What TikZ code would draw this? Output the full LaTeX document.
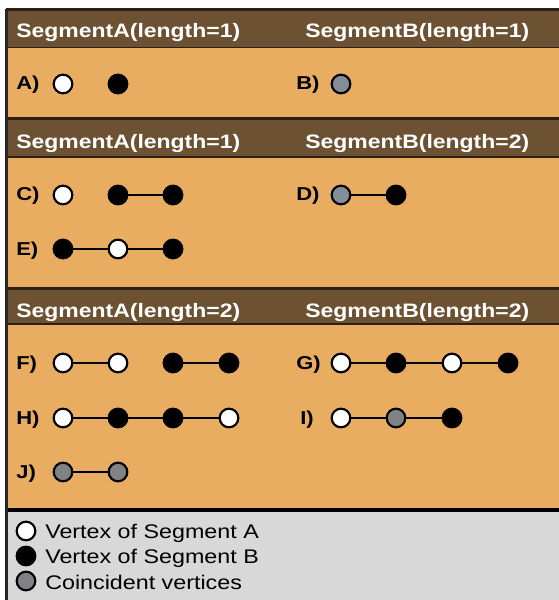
\documentclass[tikz,border=0pt]{standalone}
\usepackage{fontspec}
\setmainfont{Liberation Sans}
\definecolor{hdbrown}{RGB}{108,82,50}
\definecolor{bodyorange}{RGB}{233,173,98}
\definecolor{legendgrey}{RGB}{216,216,216}
\definecolor{sepdark}{RGB}{45,32,18}
\definecolor{coingrey}{RGB}{128,130,132}
\definecolor{coinblue}{RGB}{132,142,152}
\newcommand{\wide}[1]{\scalebox{1.18}[1]{#1}}
\begin{document}
\begin{tikzpicture}[x=0.75pt,y=-0.75pt,
  hdtext/.style={anchor=base west, inner sep=0pt, text=white,
    font=\fontsize{14.6pt}{16pt}\selectfont\bfseries},
  rowlabel/.style={anchor=base west, inner sep=0pt, text=black,
    font=\fontsize{14pt}{16pt}\selectfont\bfseries},
  legtext/.style={anchor=base west, inner sep=0pt, text=black,
    font=\fontsize{14.8pt}{16pt}\selectfont},
  vtx/.style={circle, draw=black, line width=1.6pt, minimum size=14pt, inner sep=0pt},
  va/.style={vtx, fill=white},
  vb/.style={vtx, fill=black},
  vc/.style={vtx, fill=coingrey},
  vcb/.style={vtx, fill=coinblue},
  edge/.style={draw=black, line width=1.1pt},
  sep/.style={draw=sepdark, line width=1.6pt},
]
\useasboundingbox (0,0) rectangle (559,600);
\fill[white] (0,0) rectangle (559,600);

% bands of the table
\fill[hdbrown]    (6,9)   rectangle (559,47);
\fill[bodyorange] (6,47)  rectangle (559,118);
\fill[hdbrown]    (6,118) rectangle (559,157);
\fill[bodyorange] (6,157) rectangle (559,288);
\fill[hdbrown]    (6,288) rectangle (559,324);
\fill[bodyorange] (6,324) rectangle (559,509);
\fill[legendgrey] (6,509) rectangle (559,600);

% rules between bands and the outer frame
\draw[sep] (6,9.5) -- (559,9.5);
\draw[sep, line width=0.9pt] (6,47.5) -- (559,47.5);
\draw[sep] (6,118.5) -- (559,118.5);
\draw[sep, line width=0.9pt] (6,157) -- (559,157);
\draw[sep] (6,288.5) -- (559,288.5);
\draw[sep, line width=0.9pt] (6,324) -- (559,324);
\draw[draw=black, line width=2.6pt] (6,510) -- (559,510);
\draw[draw=black!85, line width=2pt] (6.5,9) -- (6.5,600);

% headers
\node[hdtext] (h1a) at (16,37)  {\wide{SegmentA(length=1)}};
\node[hdtext] (h1b) at (305,37) {\wide{SegmentB(length=1)}};
\node[hdtext] (h2a) at (16,148)  {\wide{SegmentA(length=1)}};
\node[hdtext] (h2b) at (305,148) {\wide{SegmentB(length=2)}};
\node[hdtext] (h3a) at (16,317)  {\wide{SegmentA(length=2)}};
\node[hdtext] (h3b) at (305,317) {\wide{SegmentB(length=2)}};

% row labels
\node[rowlabel] (lA) at (16,89)  {\wide{A)}};
\node[rowlabel] (lB) at (296,89) {\wide{B)}};
\node[rowlabel] (lC) at (16,200)  {\wide{C)}};
\node[rowlabel] (lD) at (296,200) {\wide{D)}};
\node[rowlabel] (lE) at (16,255)  {\wide{E)}};
\node[rowlabel] (lF) at (16,369)  {\wide{F)}};
\node[rowlabel] (lG) at (296,369) {\wide{G)}};
\node[rowlabel] (lH) at (16,424)  {\wide{H)}};
\node[rowlabel] (lI) at (300,424) {\wide{I)}};
\node[rowlabel] (lJ) at (16,478)  {\wide{J)}};

% A)
\node[va] (a1) at (63,84) {};
\node[vb] (a2) at (118,84) {};
% B)
\node[vcb] (b1) at (341,84) {};
% C)
\node[va] (c1) at (63,195) {};
\node[vb] (c2) at (118,195) {};
\node[vb] (c3) at (173,195) {};
\draw[edge] (c2) -- (c3);
% D)
\node[vcb] (d1) at (341,195) {};
\node[vb] (d2) at (396,195) {};
\draw[edge] (d1) -- (d2);
% E)
\node[vb] (e1) at (63,249) {};
\node[va] (e2) at (118,249) {};
\node[vb] (e3) at (173,249) {};
\draw[edge] (e1) -- (e2) -- (e3);
% F)
\node[va] (f1) at (63,363) {};
\node[va] (f2) at (118,363) {};
\node[vb] (f3) at (173,363) {};
\node[vb] (f4) at (229,363) {};
\draw[edge] (f1) -- (f2);
\draw[edge] (f3) -- (f4);
% G)
\node[va] (g1) at (341,363) {};
\node[vb] (g2) at (396,363) {};
\node[va] (g3) at (452,363) {};
\node[vb] (g4) at (508,363) {};
\draw[edge] (g1) -- (g2) -- (g3) -- (g4);
% H)
\node[va] (hh1) at (63,418) {};
\node[vb] (hh2) at (118,418) {};
\node[vb] (hh3) at (173,418) {};
\node[va] (hh4) at (229,418) {};
\draw[edge] (hh1) -- (hh2) -- (hh3) -- (hh4);
% I)
\node[va] (i1) at (341,418) {};
\node[vc] (i2) at (396,418) {};
\node[vb] (i3) at (452,418) {};
\draw[edge] (i1) -- (i2) -- (i3);
% J)
\node[vc] (j1) at (63,472) {};
\node[vc] (j2) at (118,472) {};
\draw[edge] (j1) -- (j2);

% legend
\node[va] (ka) at (26,531) {};
\node[vb] (kb) at (26,556) {};
\node[vc] (kc) at (26,581) {};
\node[legtext] (ta) at (45,538) {\wide{Vertex of Segment A}};
\node[legtext] (tb) at (45,563) {\wide{Vertex of Segment B}};
\node[legtext] (tc) at (45,589) {\wide{Coincident vertices}};
\end{tikzpicture}
\end{document}
